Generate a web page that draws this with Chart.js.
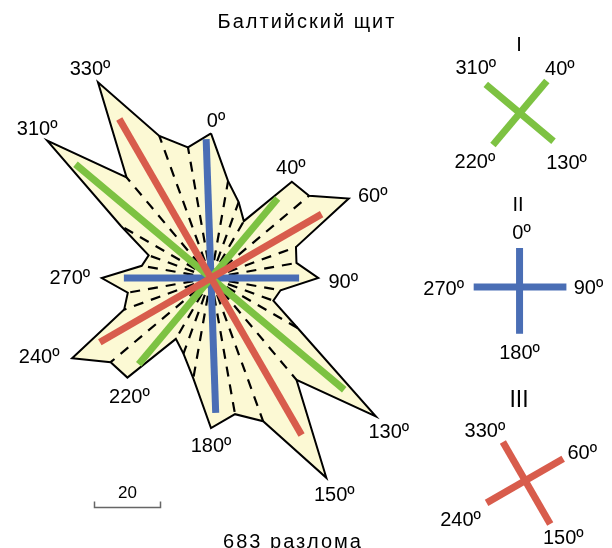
<!DOCTYPE html>
<html>
<head>
<meta charset="utf-8">
<script src="https://cdn.jsdelivr.net/npm/chart.js@4.4.0/dist/chart.umd.min.js"></script>
<style>
body { margin: 0; background: #fff; }
canvas { display: block; }
</style>
</head>
<body>
<canvas id="rose" width="612" height="548"></canvas>
<script>
// rose directions (degrees, clockwise from north) and number of faults per 10° bin
const directions = [0, 10, 20, 30, 40, 50, 60, 70, 80, 90, 100, 110,
                    120, 130, 140, 150, 160, 170, 180, 190, 200, 210, 220, 230,
                    240, 250, 260, 270, 280, 290, 300, 310, 320, 330, 340, 350];
const faultCounts = [43.8, 29.8, 24.5, 19.9, 38.1, 38.8, 48.2, 27.4, 26.3, 32.5, 21.4, 20.1,
                     30.3, 65.2, 40.3, 69.9, 46.2, 41.9, 45.5, 30.9, 24.4, 21.3, 39.4, 39.7,
                     48.6, 28.0, 25.6, 33.1, 21.3, 20.1, 31.5, 64.8, 39.8, 68.5, 45.8, 40.2];

// fault systems: directions and lengths of the thick lines in the rose
const sysIAngles = [40, 130, 220, 310];
const sysILengths = [31.4, 52.7, 34.1, 53.6];
const sysIIAngles = [358, 90, 178, 270];
const sysIILengths = [42.1, 26.7, 40.9, 26.4];
const sysIIIAngles = [60, 150, 240, 330];
const sysIIILengths = [38.7, 54.9, 38.9, 55.6];

// small crosses on the right
const keyIAngles = [40, 130, 220, 310];
const keyIArms = [12.7, 13.3, 12.7, 13.5];
const keyIIAngles = [0, 90, 180, 270];
const keyIIArms = [11.8, 14.2, 14.2, 13.9];
const keyIIIAngles = [60, 150, 240, 330];
const keyIIIArms = [13.3, 15.2, 13.5, 13.5];

const labelAngles = [0, 40, 60, 90, 130, 150, 180, 220, 240, 270, 310, 330];
const scaleBarValue = 20;

const PX = 3.3; // pixels per fault on the scale bar
const GREEN = '#7DC242', RED = '#D85C4C', BLUE = '#4A6EB5';

function toXY(angle, r, cx = 0, cy = 0) {
  const a = angle * Math.PI / 180;
  return { x: cx + r * Math.sin(a), y: cy + r * Math.cos(a) };
}

function crossSets(angles, lengths, cx, cy, color) {
  return [[0, 2], [1, 3]].map(([i, j]) => ({
    data: [toXY(angles[j], lengths[j], cx, cy), toXY(angles[i], lengths[i], cx, cy)],
    showLine: true, borderColor: color, borderWidth: 7, borderCapStyle: 'butt',
    pointRadius: 0, fill: false, order: 1
  }));
}

const used = [].concat(sysIAngles, sysIIAngles, sysIIIAngles, [0, 180]);

const polygon = directions.map((d, i) => toXY(d, faultCounts[i]));
polygon.push(polygon[0]);

const datasets = [];
datasets.push(...crossSets(sysIIIAngles, sysIIILengths, 0, 0, RED));
datasets.push(...crossSets(sysIAngles, sysILengths, 0, 0, GREEN));
datasets.push(...crossSets(sysIIAngles, sysIILengths, 0, 0, BLUE));

const keyI = { x: 93.6, y: 50.0 }, keyII = { x: 93.5, y: -2.7 }, keyIII = { x: 95.2, y: -61.4 };
datasets.push(...crossSets(keyIAngles, keyIArms, keyI.x, keyI.y, GREEN));
datasets.push(...crossSets(keyIIAngles, keyIIArms, keyII.x, keyII.y, BLUE));
datasets.push(...crossSets(keyIIIAngles, keyIIIArms, keyIII.x, keyIII.y, RED));

directions.forEach((d, i) => {
  if (used.includes(d)) return;
  datasets.push({
    data: [{ x: 0, y: 0 }, toXY(d, faultCounts[i])],
    showLine: true, borderColor: '#000', borderWidth: 2.2, borderDash: [10, 8],
    pointRadius: 0, fill: false, order: 2
  });
});

datasets.push({
  data: polygon, showLine: true, borderColor: '#000', borderWidth: 2,
  borderJoinStyle: 'miter', backgroundColor: '#FCF9D4', fill: 'shape',
  pointRadius: 0, order: 3
});

const labelOffsets = { 0: [5, -13], 40: [-1, -15], 60: [24, -3], 90: [25, 3], 130: [13, 15], 150: [8, 16],
  180: [0, 17], 220: [2, 18], 240: [-33, -2], 270: [-32, -1], 310: [-10, -13], 330: [-8, -14] };
const keyOffsets = [
  [keyI, keyIAngles, keyIArms, [[13, -13], [13, 21], [-18, 16], [-10, -17]]],
  [keyII, keyIIAngles, keyIIArms, [[2, -16], [22, 0], [0, 18], [-30, 1]]],
  [keyIII, keyIIIAngles, keyIIIArms, [[19, -7], [13, 13], [-26, 16], [-18, -12]]]
];

const textPlugin = {
  id: 'texts',
  afterDatasetsDraw(chart) {
    const { ctx, scales: { x, y } } = chart;
    const px = p => [x.getPixelForValue(p.x), y.getPixelForValue(p.y)];
    ctx.save();
    ctx.fillStyle = '#000';
    ctx.textAlign = 'center';
    ctx.textBaseline = 'alphabetic';
    ctx.font = '20px "Liberation Sans", Arial, sans-serif';
    labelAngles.forEach(a => {
      const [tx, ty] = px(toXY(a, faultCounts[directions.indexOf(a)]));
      const o = labelOffsets[a];
      ctx.fillText(a + 'º', tx + o[0], ty + o[1] + 7);
    });
    keyOffsets.forEach(([c, angles, arms, offs]) => {
      angles.forEach((a, i) => {
        const [tx, ty] = px(toXY(a, arms[i], c.x, c.y));
        ctx.fillText(a + 'º', tx + offs[i][0], ty + offs[i][1] + 7);
      });
    });
    ctx.fillText('I', 519, 51);
    ctx.fillText('II', 518, 211);
    ctx.font = '23px "Liberation Sans", Arial, sans-serif';
    ctx.fillText('III', 519, 407);

    ctx.font = '20px "Liberation Sans", Arial, sans-serif';
    ctx.letterSpacing = '2px';
    ctx.fillText('Балтийский щит', 307, 28);
    ctx.fillText('683 разлома', 293, 548);
    ctx.letterSpacing = '0px';

    // scale bar
    const x0 = 94.5, yb = 507.5;
    const len = x.getPixelForValue(scaleBarValue) - x.getPixelForValue(0);
    ctx.strokeStyle = '#666';
    ctx.lineWidth = 1.5;
    ctx.beginPath();
    ctx.moveTo(x0, yb - 6); ctx.lineTo(x0, yb); ctx.lineTo(x0 + len, yb); ctx.lineTo(x0 + len, yb - 6);
    ctx.stroke();
    ctx.font = '17px "Liberation Sans", Arial, sans-serif';
    ctx.fillText(String(scaleBarValue), x0 + len / 2, 498);
    ctx.restore();
  }
};

new Chart(document.getElementById('rose'), {
  type: 'scatter',
  data: { datasets },
  options: {
    responsive: false,
    animation: false,
    devicePixelRatio: 1,
    layout: { padding: 0 },
    elements: { line: { tension: 0 } },
    plugins: { legend: { display: false }, tooltip: { enabled: false } },
    scales: {
      x: { type: 'linear', display: false, min: -211 / PX, max: (612 - 211) / PX },
      y: { type: 'linear', display: false, min: -(548 - 278) / PX, max: 278 / PX }
    }
  },
  plugins: [textPlugin]
});
</script>
</body>
</html>
